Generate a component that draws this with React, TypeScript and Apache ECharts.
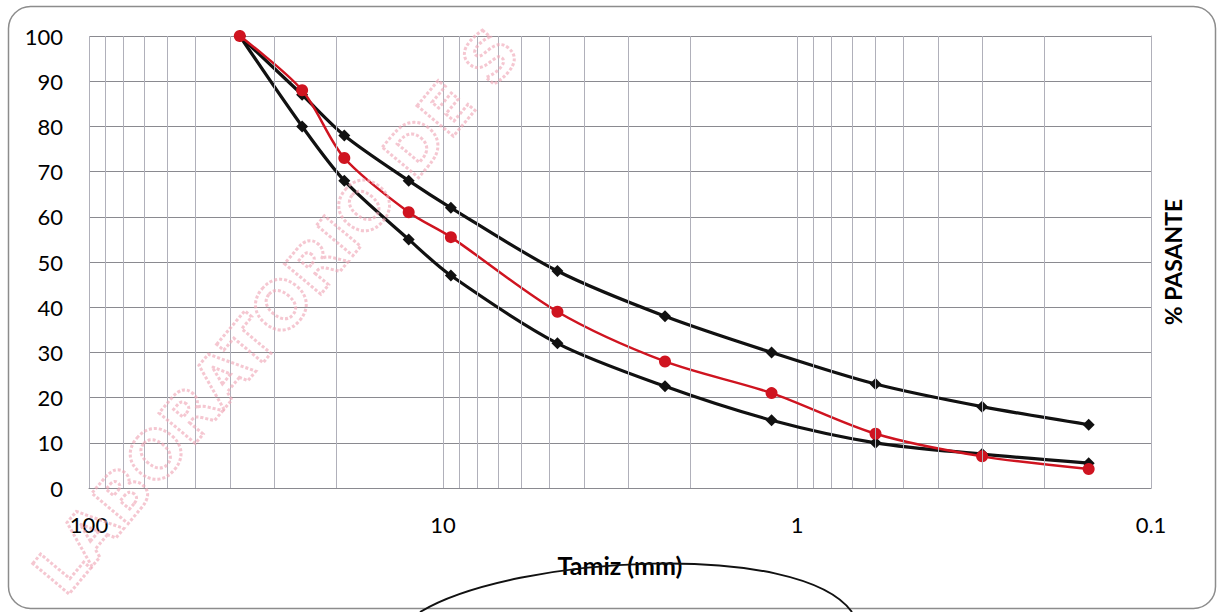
import React, { useEffect, useRef } from "react";
import * as echarts from "echarts";

// Sieve openings (mm)
const SIEVES = [37.5, 25, 19, 12.5, 9.5, 4.75, 2.36, 1.18, 0.6, 0.3, 0.15];
// Upper gradation limit (% passing)
const UPPER = [100, 87, 78, 68, 62, 48, 38, 30, 23, 18, 14];
// Lower gradation limit (% passing)
const LOWER = [100, 80, 68, 55, 47, 32, 22.5, 15, 10, 7.5, 5.5];
// Sample (% passing)
const SAMPLE = [100, 88, 73, 61, 55.5, 39, 28, 21, 12, 7, 4.2];
// Minor log grid lines on the x axis
const X_MINOR = [90, 80, 70, 60, 50, 40, 30, 20, 9, 8, 7, 6, 5, 4, 3, 2, 0.9, 0.8, 0.7, 0.6, 0.5, 0.4, 0.3, 0.2];
// X tick labels
const X_LABELS = ["100", "10", "1", "0.1"];

const FONT = "Lato, 'Open Sans', sans-serif";

export default function App() {
  const ref = useRef<HTMLDivElement>(null);
  useEffect(() => {
    if (!ref.current) return;
    const chart = echarts.init(ref.current, null, { renderer: "svg" });
    const pair = (ys: number[]) => SIEVES.map((s, i) => [s, ys[i]]);
    chart.setOption({
      animation: false,
      backgroundColor: "#ffffff",
      grid: { left: 89, right: 68, top: 36, bottom: 124 },
      xAxis: {
        type: "log",
        logBase: 10,
        min: 0.1,
        max: 100,
        inverse: true,
        name: "Tamiz (mm)",
        nameLocation: "middle",
        nameGap: 64,
        nameTextStyle: { fontFamily: FONT, fontSize: 25, fontWeight: "bold", color: "#000" },
        axisLine: { show: true, onZero: false, lineStyle: { color: "#8a8a90", width: 1 } },
        axisTick: { show: false },
        axisLabel: {
          fontFamily: FONT,
          fontSize: 22,
          color: "#000",
          margin: 25,
          formatter: (v: number) => {
            const idx = Math.round(2 - Math.log10(v));
            return X_LABELS[idx] ?? String(v);
          },
        },
        splitLine: { show: true, lineStyle: { color: "#b0b0ba", width: 1 } },
      },
      yAxis: [
        {
          type: "value",
          min: 0,
          max: 100,
          interval: 10,
          axisLine: { show: false },
          axisTick: { show: false },
          axisLabel: { fontFamily: FONT, fontSize: 22, color: "#000", margin: 26 },
          splitLine: { show: true, lineStyle: { color: "#8a8a90", width: 1.2 } },
        },
        {
          type: "value",
          position: "right",
          min: 0,
          max: 100,
          name: "% PASANTE",
          nameLocation: "middle",
          nameRotate: 90,
          nameGap: 10,
          nameTextStyle: { fontFamily: FONT, fontSize: 23, fontWeight: "bold", color: "#000" },
          axisLine: { show: true, lineStyle: { color: "#b0b0ba", width: 1 } },
          axisTick: { show: false },
          axisLabel: { show: false },
          splitLine: { show: false },
        },
      ],
      graphic: [
        {
          type: "rect",
          silent: true,
          z: -10,
          shape: { x: 8.5, y: 6.5, width: 1207, height: 602, r: 22 },
          style: { fill: "none", stroke: "#8c8c8c", lineWidth: 1.5 },
        },
        {
          type: "text",
          silent: true,
          z: 50,
          x: 48,
          y: 584,
          rotation: (50 * Math.PI) / 180,
          style: {
            text: "LABORATORIO DE S",
            fontFamily: "'DejaVu Sans', sans-serif",
            fontWeight: "bold",
            fontSize: 65,
            fill: "rgba(0,0,0,0)",
            stroke: "#efa9b8",
            lineWidth: 3,
            lineDash: [3, 2],
            align: "left",
            verticalAlign: "middle",
            opacity: 0.65,
          },
        },
        {
          type: "bezierCurve",
          silent: true,
          z: 60,
          shape: { x1: 420, y1: 612, cpx1: 515, cpy1: 555, cpx2: 800, cpy2: 540, x2: 852, y2: 612 },
          style: { stroke: "#111", lineWidth: 2, fill: "none" },
        },
      ],
      series: [
        {
          type: "line",
          name: "grid",
          silent: true,
          z: 1,
          data: [[100, 0]],
          showSymbol: false,
          lineStyle: { opacity: 0 },
          markLine: {
            silent: true,
            symbol: "none",
            label: { show: false },
            lineStyle: { color: "#b0b0ba", width: 1, type: "solid" },
            data: X_MINOR.map((v) => ({ xAxis: v })),
          },
        },
        {
          type: "line",
          name: "Límite superior",
          z: 3,
          data: pair(UPPER),
          smooth: 0.3,
          symbol: "diamond",
          symbolSize: 12,
          itemStyle: { color: "#111" },
          lineStyle: { color: "#111", width: 3.2 },
        },
        {
          type: "line",
          name: "Límite inferior",
          z: 3,
          data: pair(LOWER),
          smooth: 0.3,
          symbol: "diamond",
          symbolSize: 12,
          itemStyle: { color: "#111" },
          lineStyle: { color: "#111", width: 3.2 },
        },
        {
          type: "line",
          name: "Muestra",
          z: 4,
          data: pair(SAMPLE),
          smooth: 0.3,
          symbol: "circle",
          symbolSize: 12,
          itemStyle: { color: "#cf1420" },
          lineStyle: { color: "#cf1420", width: 2.5 },
        },
      ],
    });
    return () => chart.dispose();
  }, []);
  return (
    <div
      ref={ref}
      style={{ position: "absolute", left: 0, top: 0, width: 1219, height: 612 }}
    />
  );
}
